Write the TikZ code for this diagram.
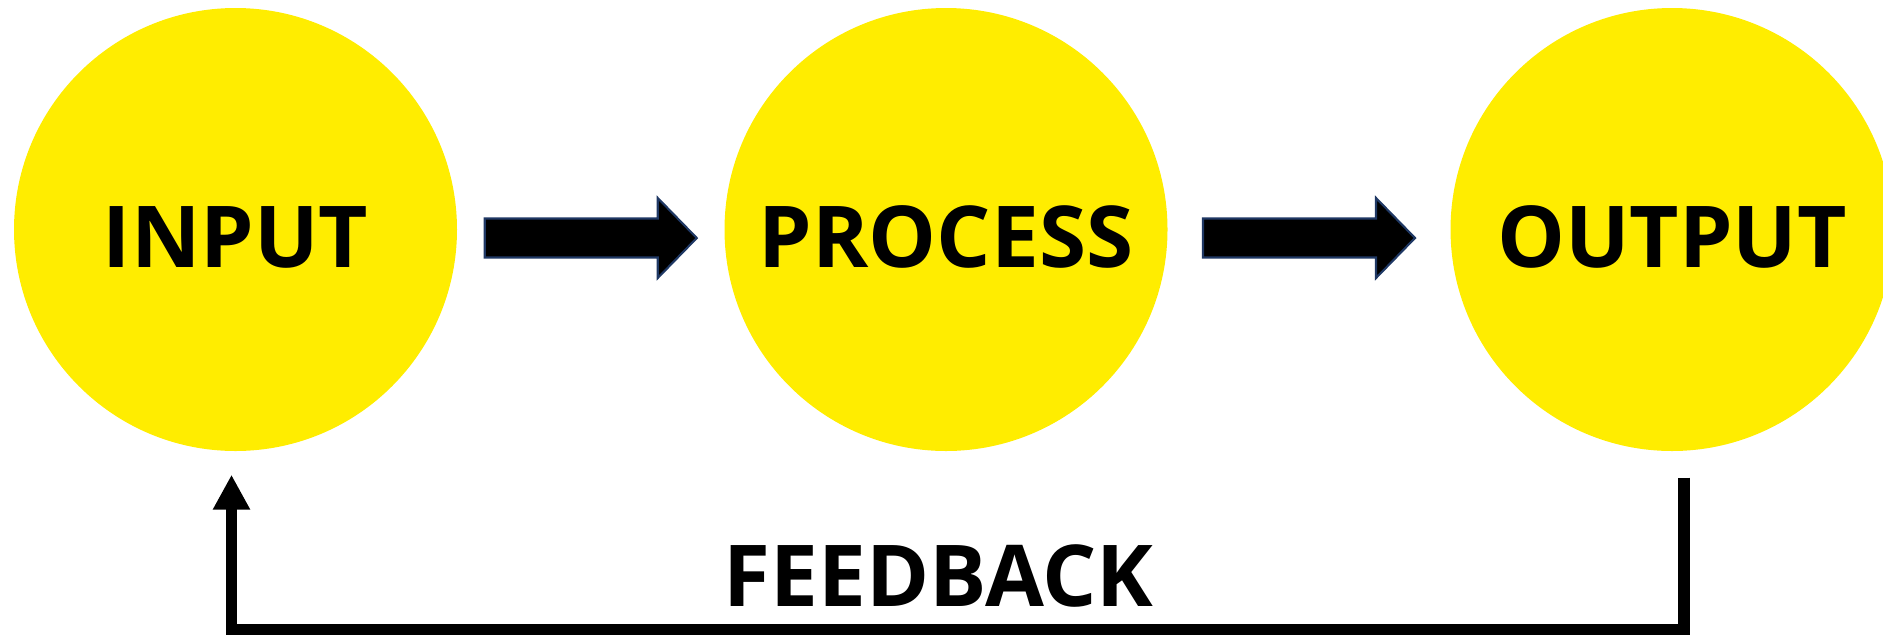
\documentclass[tikz,border=0pt]{standalone}
\usepackage{fontspec}
\setmainfont{Open Sans}
\usepackage{tikz}
\usetikzlibrary{arrows.meta,calc,positioning}
\definecolor{kreisgelb}{RGB}{255,237,0}
\definecolor{pfeilrand}{RGB}{31,56,100}
\tikzset{
  kreis/.style={circle,fill=kreisgelb,minimum size=4.43cm,inner sep=0pt,text height=0.75cm,text depth=0pt,font=\fontsize{24.3}{29}\selectfont\bfseries},
  blockpfeil/.style={draw=pfeilrand,line width=0.6pt,fill=black},
  rueck/.style={line width=3.4pt,-{Triangle[width=0.35cm,length=0.35cm]}}
}

\begin{document}
\begin{tikzpicture}
  \useasboundingbox (0,0) rectangle (18.83,6.34);
  \clip (0,0) rectangle (18.83,6.34);
%Kreise
  \node[kreis] (in) at (2.355,4.045) {INPUT};
  \node[kreis] (proc) at (9.46,4.045) {PROCESS};
  \node[kreis] (out) at (16.72,4.045) {OUTPUT};
%Blockpfeile: Laenge, Spitze, halbe Hoehe von Schaft und Kopf
  \pgfmathsetmacro{\laenge}{2.12}
  \pgfmathsetmacro{\spitze}{0.39}
  \pgfmathsetmacro{\hschaft}{0.195}
  \pgfmathsetmacro{\hkopf}{0.40}
\foreach \a/\b in {in/proc,proc/out}{
  \coordinate (m) at ($(\a.east)!0.5!(\b.west)+(0,-0.085)$);
  \draw[blockpfeil] ($(m)+(-\laenge/2,\hschaft)$) -- ++(\laenge-\spitze,0) -- ++(0,\hkopf-\hschaft) -- ++(\spitze,-\hkopf) -- ++(-\spitze,-\hkopf) -- ++(0,\hkopf-\hschaft) -- ++(\spitze-\laenge,0) -- cycle;
}
%Rueckkopplung unten herum
  \coordinate (fbstart) at ($(out.south)+(0.12,-0.26)$);
  \coordinate (fbende) at ($(in.south)+(-0.04,-0.23)$);
  \coordinate (fbunten) at (0,0.04);
  \draw[rueck] (fbstart) -- (fbstart |- fbunten) -- (fbende |- fbunten) -- (fbende);
  \node[anchor=base,font=\fontsize{24.3}{29}\selectfont\bfseries] (fb) at (9.385,0.28) {FEEDBACK};
\end{tikzpicture}
\end{document}
